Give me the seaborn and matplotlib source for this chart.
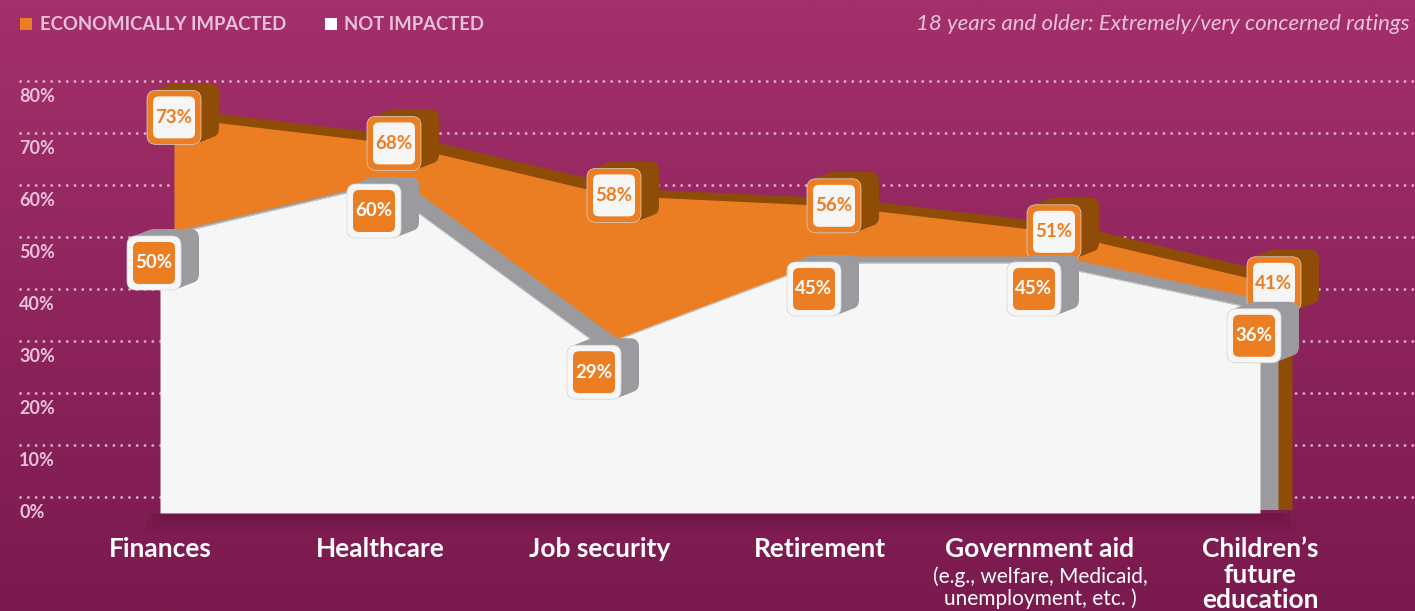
import numpy as np
import pandas as pd
import matplotlib
matplotlib.use("Agg")
from matplotlib import pyplot as plt
from matplotlib.patches import FancyBboxPatch
import seaborn as sns

# data
categories = ["Finances", "Healthcare", "Job security", "Retirement",
              "Government aid", "Children\u2019s\nfuture\neducation"]
subtitles = ["", "", "", "", "(e.g., welfare, Medicaid,\nunemployment, etc. )", ""]
impacted = [73, 68, 58, 56, 51, 41]
not_impacted = [50, 60, 29, 45, 45, 36]
y_ticks = [0, 10, 20, 30, 40, 50, 60, 70, 80]
legend_labels = ["ECONOMICALLY IMPACTED", "NOT IMPACTED"]
note = "18 years and older: Extremely/very concerned ratings"

# colours
ORANGE = "#eb7e22"
BROWN = "#8f4c06"
WHITE = "#f5f6f5"
GRAY = "#9b9b9f"
PINK = "#e8c3d8"

sns.set_theme(style="white")
plt.rcParams["font.family"] = ["Lato", "DejaVu Sans"]

W, H = 1415, 611
fig = plt.figure(figsize=(W / 100, H / 100), dpi=100)

# background gradient
bg = fig.add_axes([0, 0, 1, 1])
grad = np.linspace(0, 1, 256).reshape(-1, 1)
cmap = matplotlib.colors.LinearSegmentedColormap.from_list("bg", ["#a4306c", "#7a1a4e"])
bg.imshow(grad, aspect="auto", cmap=cmap, extent=[0, 1, 0, 1])
bg.axis("off")

ax = fig.add_axes([0, 0, 1, 1])
ax.patch.set_alpha(0)
ax.axis("off")

# pixel based scale: 220 px per category, 5.2 px per percent, 0% at y=497
X0, XSTEP, Y0, YSTEP = 160, 220, 497, 5.2
ax.set_xlim(-X0 / XSTEP, (W - X0) / XSTEP)
ax.set_ylim((Y0 - H) / YSTEP, Y0 / YSTEP)
PX = 1 / XSTEP
PY = 1 / YSTEP

df = pd.DataFrame({"cat": categories, "impacted": impacted, "not_impacted": not_impacted})
xw = np.arange(len(df), dtype=float)
xo = xw + 14 * PX
dx, dy = 18 * PX, 7 * PY
base = -16 * PY

# dotted gridlines + labels
for t in y_ticks:
    ax.plot([20 * PX - X0 / XSTEP, (W - X0) / XSTEP], [t, t], color=PINK, lw=2.0,
            ls=(0, (0.05, 2.75)), dash_capstyle="round", alpha=0.9, zorder=1)
    ax.text(19 * PX - X0 / XSTEP, t - 15 * PY, f"{t}%", color=PINK, fontsize=13,
            fontweight="bold", ha="left", va="center", zorder=1)

# soft shadow under the chart block
for i in range(4):
    ax.fill_between([xw[0] + 4 * PX - 6 * PX * i, xw[-1] + dx + 6 * PX * i],
                    base - (4 + 5 * i) * PY, base,
                    color="#4a0a2c", alpha=0.09, lw=0, zorder=1.5)

# orange layer with its thickness
ax.fill_between(xo + dx, base + dy / 2, df["impacted"] + dy, color=BROWN, lw=0, zorder=2)
ax.fill_between(xo, base + dy / 2, df["impacted"], color=ORANGE, lw=0, zorder=3)
# white layer with its thickness
ax.fill_between(xw + dx, base + dy / 2, df["not_impacted"] + dy, color=GRAY, lw=0, zorder=4)
ax.fill_between(xw, base, df["not_impacted"], color=WHITE, lw=0, zorder=5)
sns.lineplot(x=xw, y=df["not_impacted"], ax=ax, color="#c9c9cb", lw=0.8, zorder=5.5)


def label_box(x, y, txt, outer, inner, depth, txtcol, z):
    s, si = 54, 42
    asp = PY / PX
    for k in np.linspace(1, 0, 7):
        ax.add_patch(FancyBboxPatch((x - s / 2 * PX + k * dx, y - s / 2 * PY + k * dy), s * PX, s * PY,
                                    boxstyle=f"round,pad=0,rounding_size={9 * PX}", mutation_aspect=asp,
                                    fc=depth, ec="none", zorder=z))
    ax.add_patch(FancyBboxPatch((x - s / 2 * PX, y - s / 2 * PY), s * PX, s * PY,
                                boxstyle=f"round,pad=0,rounding_size={9 * PX}", mutation_aspect=asp,
                                fc=outer, ec="#d8d8d8", lw=0.5, zorder=z + 0.1))
    ax.add_patch(FancyBboxPatch((x - si / 2 * PX, y - si / 2 * PY), si * PX, si * PY,
                                boxstyle=f"round,pad=0,rounding_size={6 * PX}", mutation_aspect=asp,
                                fc=inner, ec="none", zorder=z + 0.2))
    ax.text(x, y, txt, color=txtcol, fontsize=13.5, fontweight="bold",
            ha="center", va="center", zorder=z + 0.3)


for i in range(len(df)):
    label_box(xo[i], impacted[i], f"{impacted[i]}%", ORANGE, WHITE, BROWN, ORANGE, 10)
    label_box(xw[i] - 6 * PX, not_impacted[i] - 26 * PY, f"{not_impacted[i]}%", WHITE, ORANGE, GRAY,
              "white", 12)

# category labels
for i in range(len(df)):
    ax.text(xw[i], (Y0 - 537) * PY, categories[i], color="white", fontsize=19,
            fontweight="bold", ha="center", va="top", linespacing=1.08, zorder=20)
    if subtitles[i]:
        ax.text(xw[i], (Y0 - 566) * PY, subtitles[i], color="white", fontsize=15,
                ha="center", va="top", linespacing=1.12, zorder=20)

# legend and note
fig.patches.append(FancyBboxPatch((20 / W, 1 - 30 / H), 12 / W, 12 / H, boxstyle="square,pad=0",
                                  fc=ORANGE, ec="none", transform=fig.transFigure))
fig.text(40 / W, 1 - 24 / H, legend_labels[0], color=PINK, fontsize=13.3, fontweight="bold",
         ha="left", va="center")
fig.patches.append(FancyBboxPatch((325 / W, 1 - 30 / H), 12 / W, 12 / H, boxstyle="square,pad=0",
                                  fc="white", ec="none", transform=fig.transFigure))
fig.text(344 / W, 1 - 24 / H, legend_labels[1], color=PINK, fontsize=13.3, fontweight="bold",
         ha="left", va="center")
fig.text(1410 / W, 1 - 24 / H, note, color=PINK, fontsize=16, fontstyle="italic",
         ha="right", va="center")

fig.savefig("out.png", dpi=100)
